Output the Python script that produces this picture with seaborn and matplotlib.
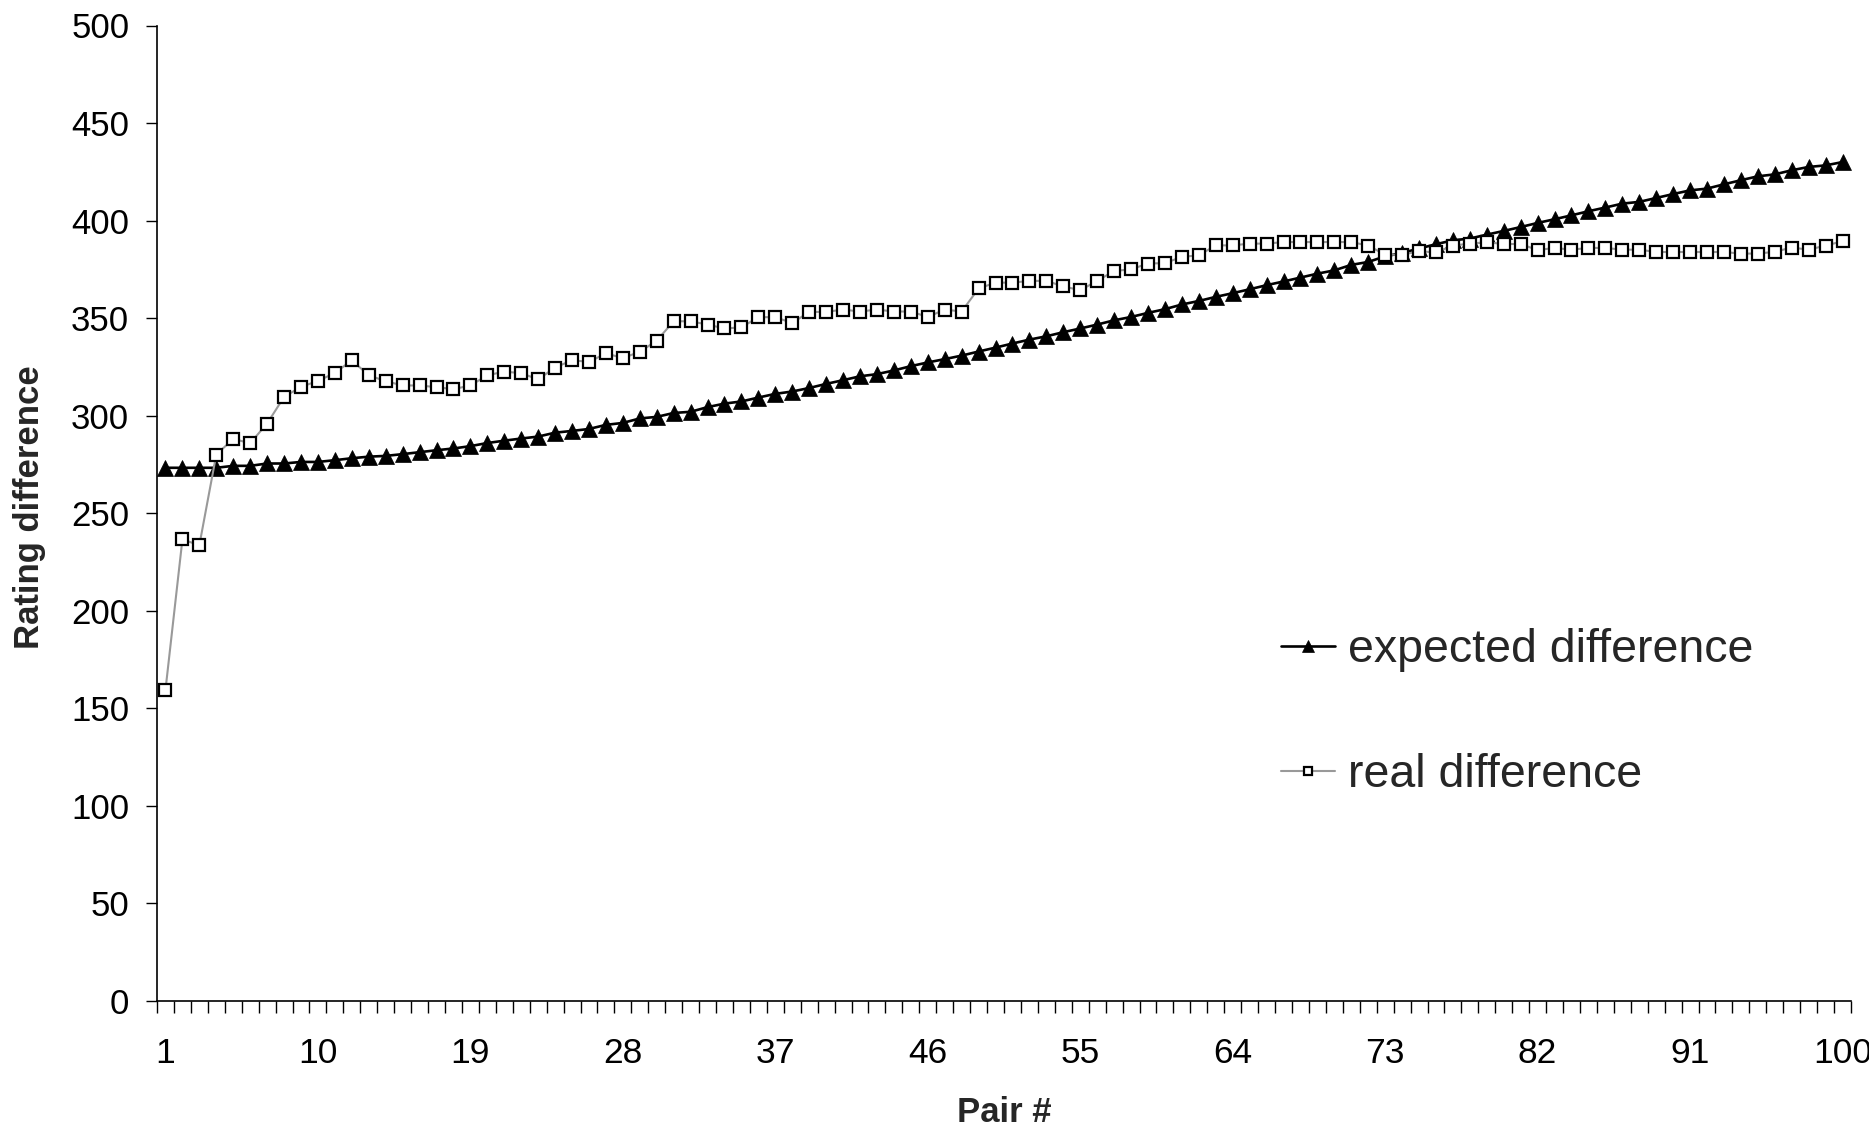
import numpy as np
import pandas as pd
import matplotlib
matplotlib.use("Agg")
import matplotlib.pyplot as plt
import seaborn as sns

# Pair index and the two rating-difference series
pairs = list(range(1, 101))

expected_diff = [
    273.3, 273.3, 273.3, 273.3, 274.3, 274.3, 275.5, 275.5, 276.3, 276.3,
    277.2, 278.2, 279.0, 279.4, 280.3, 281.3, 282.3, 283.2, 284.4, 286.0,
    287.2, 288.3, 289.3, 291.3, 292.2, 293.2, 295.3, 296.3, 298.6, 299.4,
    301.4, 302.0, 304.4, 306.2, 307.3, 309.3, 311.2, 312.4, 314.2, 316.3,
    318.2, 320.2, 321.3, 323.2, 325.4, 327.3, 329.0, 330.8, 332.9, 334.9,
    337.0, 339.0, 340.7, 342.8, 344.7, 346.7, 348.9, 350.6, 352.7, 354.6,
    357.0, 358.8, 360.9, 362.8, 364.8, 366.9, 368.8, 370.8, 372.8, 374.5,
    377.3, 378.8, 381.7, 383.4, 385.7, 387.9, 389.9, 390.8, 392.8, 394.7,
    396.7, 398.8, 400.7, 402.7, 404.8, 406.7, 408.7, 409.6, 411.6, 413.6,
    415.5, 416.4, 418.6, 420.7, 422.7, 423.7, 425.8, 427.5, 428.3, 430.0,
]

real_diff = [
    159.4, 236.6, 233.6, 280.1, 288.1, 285.9, 296.0, 309.6, 314.8, 317.8,
    321.9, 328.4, 320.7, 317.7, 315.5, 315.5, 314.6, 313.6, 315.5, 320.7,
    322.6, 321.8, 318.6, 324.7, 328.4, 327.6, 331.9, 329.6, 332.7, 338.5,
    348.4, 348.4, 346.7, 344.7, 345.3, 350.5, 350.5, 347.5, 353.2, 353.2,
    354.4, 353.4, 354.4, 353.4, 353.4, 350.6, 354.4, 353.4, 365.2, 368.2,
    368.2, 369.1, 369.1, 366.3, 364.3, 369.1, 374.2, 375.0, 378.0, 378.2,
    381.4, 382.2, 387.3, 387.3, 388.2, 388.2, 389.0, 389.0, 389.0, 389.0,
    389.0, 387.2, 382.5, 382.5, 384.3, 383.7, 387.2, 388.2, 388.9, 388.0,
    388.0, 384.9, 386.0, 385.1, 386.0, 386.0, 385.1, 385.1, 383.9, 383.9,
    383.9, 383.9, 383.9, 383.1, 383.1, 384.0, 386.2, 385.1, 387.2, 389.4,
]

x_tick_values = [1, 10, 19, 28, 37, 46, 55, 64, 73, 82, 91, 100]
y_tick_values = [0, 50, 100, 150, 200, 250, 300, 350, 400, 450, 500]

series_names = ["expected difference", "real difference"]
x_label = "Pair #"
y_label = "Rating difference"

df = pd.DataFrame({"pair": pairs, "expected": expected_diff, "real": real_diff})

sns.set_theme(style="white")
plt.rcParams["font.family"] = ["Liberation Sans", "DejaVu Sans"]

W, H = 1869, 1130
fig = plt.figure(figsize=(W / 100, H / 100), dpi=100)
ax = fig.add_axes([157 / W, 1 - 1001 / H, (1851 - 157) / W, (1001 - 25.5) / H])

sns.lineplot(data=df, x="pair", y="expected", ax=ax, color="black",
             linewidth=1.9, marker="^", markersize=12, markeredgecolor="black",
             markerfacecolor="black", markeredgewidth=0.5,
             label=series_names[0], zorder=3)
sns.lineplot(data=df, x="pair", y="real", ax=ax, color="#999999",
             linewidth=1.5, marker="s", markersize=8,
             markerfacecolor="white", markeredgecolor="black",
             markeredgewidth=1.6, label=series_names[1], zorder=4)

ax.set_xlim(0.5, 100.5)
ax.set_ylim(0, 500)

# category-style axis: labels on category centres, ticks on boundaries
ax.set_xticks(x_tick_values)
ax.set_xticklabels([str(v) for v in x_tick_values], fontsize=25.5)
ax.set_xticks(np.arange(0.5, 101, 1), minor=True)
ax.tick_params(axis="x", which="major", length=0, pad=26, colors="black")
ax.tick_params(axis="x", which="minor", length=8.5, width=1, direction="out",
               color="black", bottom=True)

ax.set_yticks(y_tick_values)
ax.set_yticklabels([str(v) for v in y_tick_values], fontsize=25)
ax.tick_params(axis="y", which="major", length=8, width=1, direction="out",
               pad=12, colors="black", left=True)

for side in ["top", "right"]:
    ax.spines[side].set_visible(False)
for side in ["left", "bottom"]:
    ax.spines[side].set_color("black")
    ax.spines[side].set_linewidth(1.2)

ax.set_xlabel(x_label, fontsize=25, fontweight="bold", va="center")
ax.xaxis.set_label_coords(0.5, -(1113 - 1001) / 975.5)
ax.set_ylabel(y_label, fontsize=25, fontweight="bold", va="center")
ax.yaxis.set_label_coords((30 - 157) / 1694, 0.506)

ax.get_legend().remove()
handles, labels = ax.get_legend_handles_labels()
leg = fig.legend(handles, labels, loc="center left",
                 bbox_to_anchor=(1281 / W, 1 - 712.5 / H),
                 frameon=False, fontsize=33.5, handlelength=1.15,
                 handletextpad=0.28, labelspacing=1.75, borderpad=0,
                 borderaxespad=0, markerscale=0.7)

fig.savefig("out.png", dpi=100, facecolor="white")
